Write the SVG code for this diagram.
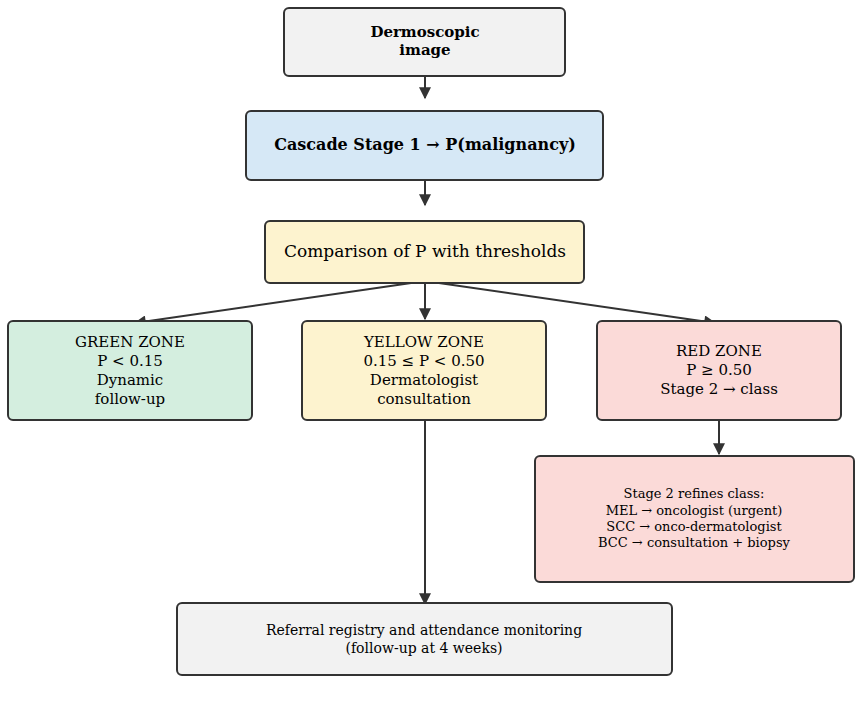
<svg xmlns="http://www.w3.org/2000/svg" width="861" height="716" viewBox="0 0 861 716">
<style>
.b{stroke:#333;stroke-width:2}
text{font-family:"DejaVu Serif",serif;text-anchor:middle;fill:#000}
.c{stroke:#333;stroke-width:2;fill:none;marker-end:url(#a)}
</style>
<defs><marker id="a" viewBox="0 0 10 10" refX="9" refY="5" markerWidth="7" markerHeight="7" markerUnits="userSpaceOnUse" orient="auto"><path d="M0,0L10,5L0,10z" fill="#333"/></marker>
<marker id="m" viewBox="0 0 10 10" refX="9" refY="5" markerWidth="14" markerHeight="12" markerUnits="userSpaceOnUse" orient="auto"><path d="M0,0L10,5L0,10z" fill="#333"/></marker></defs>
<rect width="861" height="716" fill="#fff"/>
<g id="connectors" stroke="#333" stroke-width="2" fill="none">
<path d="M425,77V98" marker-end="url(#m)"/>
<path d="M425,181V205" marker-end="url(#m)"/>
<path d="M425,281L135,323" marker-end="url(#m)"/>
<path d="M425,283V319" marker-end="url(#m)"/>
<path d="M425,281L715,323" marker-end="url(#m)"/>
<path d="M425,421V604" marker-end="url(#m)"/>
<path d="M719,421V454" marker-end="url(#m)"/>
</g>
<g id="n1"><rect class="b" x="284" y="8" width="281" height="68" rx="5" fill="#f2f2f2"/><text x="425" y="37" font-size="15" font-weight="bold">Dermoscopic</text><text x="425" y="55" font-size="15" font-weight="bold">image</text></g>
<g id="n2"><rect class="b" x="246" y="111" width="357" height="69" rx="5" fill="#d6e8f6"/><text x="425" y="150" font-size="16" font-weight="bold">Cascade Stage 1 → P(malignancy)</text></g>
<g id="n3"><rect class="b" x="265" y="221" width="319" height="62" rx="5" fill="#fdf3cf"/><text x="425" y="257" font-size="17">Comparison of P with thresholds</text></g>
<g id="green"><rect class="b" x="8" y="321" width="244" height="99" rx="5" fill="#d4eedf"/><text x="130" y="347" font-size="15">GREEN ZONE</text><text x="130" y="366" font-size="15">P &lt; 0.15</text><text x="130" y="385" font-size="15">Dynamic</text><text x="130" y="404" font-size="15">follow-up</text></g>
<g id="yellow"><rect class="b" x="302" y="321" width="244" height="99" rx="5" fill="#fdf3cf"/><text x="424" y="347" font-size="15">YELLOW ZONE</text><text x="424" y="366" font-size="15">0.15 ≤ P &lt; 0.50</text><text x="424" y="385" font-size="15">Dermatologist</text><text x="424" y="404" font-size="15">consultation</text></g>
<g id="red"><rect class="b" x="597" y="321" width="244" height="99" rx="5" fill="#fbdad8"/><text x="719" y="356" font-size="15">RED ZONE</text><text x="719" y="375" font-size="15">P ≥ 0.50</text><text x="719" y="394" font-size="15">Stage 2 → class</text></g>
<g id="stage2"><rect class="b" x="535" y="456" width="319" height="126" rx="5" fill="#fbdad8"/><g font-size="13"><text x="694" y="498" fill="#7b2626">Stage 2 refines class:</text><text x="694" y="515" fill="#7b2626">MEL → oncologist (urgent)</text><text x="694" y="531" fill="#7b2626">SCC → onco-dermatologist</text><text x="694" y="547" fill="#7b2626">BCC → consultation + biopsy</text></g></g>
<g id="registry"><rect class="b" x="177" y="603" width="495" height="72" rx="5" fill="#f2f2f2"/><text x="424" y="635" font-size="14">Referral registry and attendance monitoring</text><text x="424" y="653" font-size="14">(follow-up at 4 weeks)</text></g>
</svg>
